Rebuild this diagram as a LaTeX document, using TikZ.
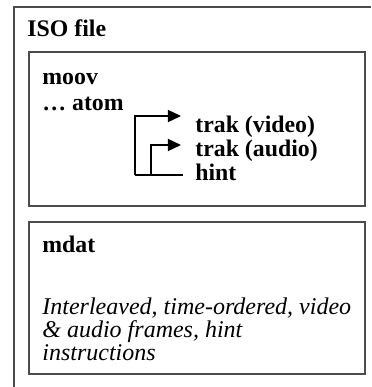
\documentclass[tikz,border=0pt]{standalone}
\usepackage{fontspec}
\setmainfont{Liberation Serif}
\usetikzlibrary{arrows.meta}

\begin{document}
\begin{tikzpicture}[x=0.5pt,y=-0.5pt,
    box/.style={draw=black!70,line width=1pt},
    lbl/.style={anchor=base west,inner sep=0pt,font=\fontsize{11.9}{14}\selectfont\bfseries},
    txt/.style={anchor=base west,inner sep=0pt,font=\fontsize{12}{14}\selectfont\itshape},
    lnk/.style={line width=0.7pt,-{Triangle[length=6.5pt,width=6pt]}}]
  \useasboundingbox (0,0) rectangle (371,387);
  \clip (0,0) rectangle (371,387);
  \draw[box] (14,395) -- (14,7) -- (380,7);
  \draw[box] (29,52) rectangle (365,206);
  \draw[box] (29,222) rectangle (365,374);
  \node[lbl] (iso) at (27,36) {ISO file};
  \node[lbl] (moov) at (42,84) {moov};
  \node[lbl] (atom) at (42,110) {\char"2026\ atom};
  \node[lbl] (video) at (195,132) {trak (video)};
  \node[lbl] (audio) at (195,156) {trak (audio)};
  \node[lbl] (hint) at (195,180) {hint};
  \coordinate (vtip) at (181,116);
  \coordinate (atip) at (181,145);
  \coordinate (hend) at (183,175);
  \coordinate (vbar) at (135,175);
  \coordinate (abar) at (151,175);
  \draw[line width=0.7pt] (vbar) -- (hend);
  \draw[lnk] (vbar) |- (vtip);
  \draw[lnk] (abar) |- (atip);
  \node[lbl] (mdat) at (42,252) {mdat};
  \node[txt] (frm1) at (42,314) {Interleaved, time-ordered, video};
  \node[txt] (frm2) at (42,337) {\& audio frames, hint};
  \node[txt] (frm3) at (42,360) {instructions};
\end{tikzpicture}
\end{document}
